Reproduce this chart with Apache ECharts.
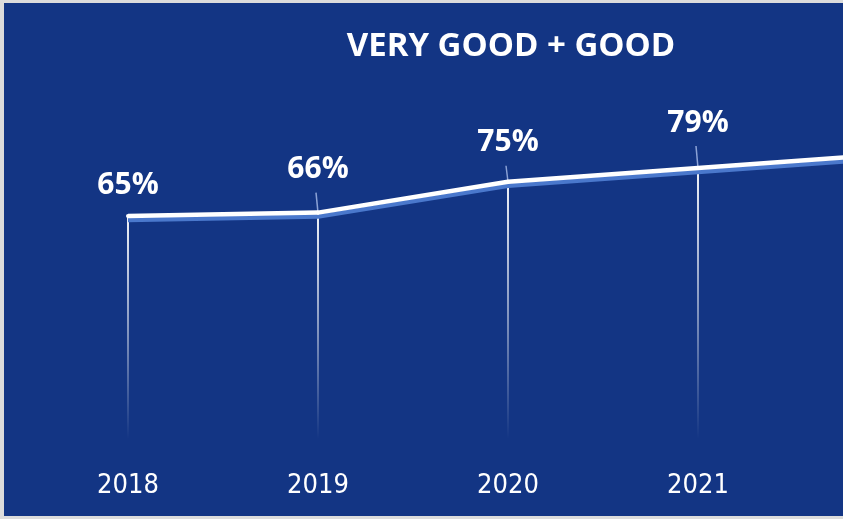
<!DOCTYPE html>
<html>
<head>
<meta charset="utf-8">
<script src="https://cdn.jsdelivr.net/npm/echarts@6/dist/echarts.min.js"></script>
<style>
  html, body { margin: 0; padding: 0; background: #dcdcdc; }
  #chart { width: 843px; height: 519px; }
</style>
</head>
<body>
<div id="chart"></div>
<script>
// years on the axis; the last one sits past the right edge, only its line shows
var years  = ['2018', '2019', '2020', '2021', '2022'];
var shares = [65, 66, 75, 79, 83];
// how far each % label sits above its point
var labelLift = [14, 26, 22, 28, 24];

var blue = '#133584';

var chart = echarts.init(document.getElementById('chart'));

var points = shares.map(function(v, i)
{
    return {
        value: v,
        label: { distance: labelLift[i] }
    };
});

var option = {
    backgroundColor: '#dcdcdc',
    animation: false,
    title: {
        text: 'VERY GOOD + GOOD',
        left: 506,
        textAlign: 'center',
        top: 25,
        textStyle: {
            color: '#ffffff',
            fontFamily: 'Open Sans',
            fontWeight: 'bold',
            fontSize: 33
        }
    },
    graphic: [{
        type: 'rect',
        z: -10,
        shape: { x: 4, y: 3, width: 839, height: 513 },
        style: { fill: blue }
    }],
    grid: {
        left: 33,
        width: 950,
        top: 96,
        bottom: 80,
        outerBoundsMode: 'none',
        containLabel: false
    },
    xAxis: {
        type: 'category',
        data: years,
        boundaryGap: true,
        axisLine: { show: false },
        axisTick: { show: false },
        axisLabel: {
            color: '#ffffff',
            fontFamily: "'DejaVu Sans Condensed', 'Open Sans', sans-serif",
            fontSize: 27,
            margin: 33
        }
    },
    yAxis: {
        type: 'value',
        min: 0,
        max: 100,
        show: false,
        splitLine: { show: false }
    },
    series: [
        {
            // fading drop lines plus the short leader under each label
            type: 'custom',
            z: 1,
            clip: false,
            data: shares.map(function(v, i) { return [i, v]; }),
            renderItem: function(params, api)
            {
                var top  = api.coord([api.value(0), api.value(1)]);
                var base = api.coord([api.value(0), 0]);
                var lift = labelLift[params.dataIndex];
                var kids = [{
                    type: 'rect',
                    shape: { x: top[0] - 1, y: top[1], width: 2, height: base[1] - top[1] },
                    style: {
                        fill: new echarts.graphic.LinearGradient(0, 0, 0, 1, [
                            { offset: 0, color: 'rgba(255,255,255,0.95)' },
                            { offset: 0.55, color: 'rgba(255,255,255,0.45)' },
                            { offset: 1, color: 'rgba(255,255,255,0)' }
                        ])
                    }
                }];
                if(params.dataIndex > 0)
                {
                    kids.push({
                        type: 'line',
                        shape: { x1: top[0] - 2, y1: top[1] - lift + 6, x2: top[0], y2: top[1] },
                        style: { stroke: 'rgba(170,190,235,0.8)', lineWidth: 1.5 }
                    });
                }
                return { type: 'group', children: kids };
            }
        },
        {
            type: 'line',
            z: 3,
            data: points,
            symbol: 'circle',
            symbolSize: 4,
            itemStyle: { color: '#ffffff' },
            lineStyle: {
                color: '#ffffff',
                width: 4.5,
                shadowColor: '#4a78cc',
                shadowBlur: 0,
                shadowOffsetY: 4
            },
            label: {
                show: true,
                position: 'top',
                formatter: '{c}%',
                color: '#ffffff',
                fontFamily: 'Open Sans',
                fontWeight: 'bold',
                fontSize: 30
            }
        }
    ]
};

chart.setOption(option);
</script>
</body>
</html>
